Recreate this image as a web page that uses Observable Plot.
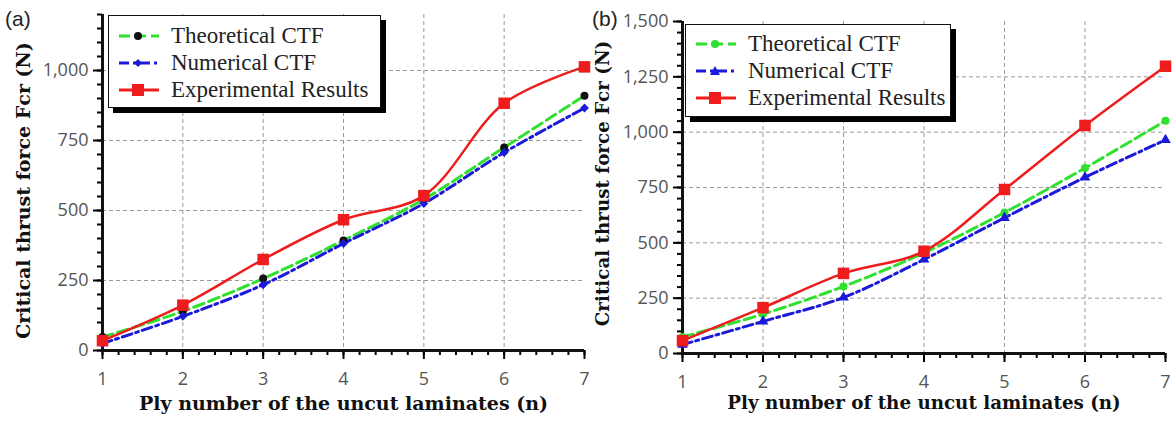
<!DOCTYPE html>
<html>
<head>
<meta charset="utf-8">
<script src="https://cdn.jsdelivr.net/npm/d3@7"></script>
<script src="https://cdn.jsdelivr.net/npm/@observablehq/plot@0.6"></script>
<style>
  html, body { margin: 0; padding: 0; background: #fff; }
  #wrap { display: flex; width: 1174px; height: 421px; }
  .panel { position: relative; width: 587px; height: 421px; }
  .panel svg.plot { position: absolute; left: 0; top: 0; }
  .panel g[aria-label$="tick label"] { fill: #555; font-family: "Open Sans", "Liberation Sans", sans-serif; }
  .tag { position: absolute; font-family: "Liberation Sans", sans-serif; font-size: 21px; color: #222; }
  .legend { position: absolute; background: #fff; border: 1px solid #111; box-shadow: 5px 5px 0 #000; box-sizing: border-box; }
  .legend .row { position: absolute; left: 0; display: flex; align-items: center; height: 26px; }
  .legend .row span { font-family: "Liberation Serif", "Times New Roman", serif; font-size: 23px; color: #222; white-space: nowrap; }
</style>
</head>
<body>
<div id="wrap"></div>
<script>
// ---- data ----
const plies = [1, 2, 3, 4, 5, 6, 7];
const seriesNames = ["Theoretical CTF", "Numerical CTF", "Experimental Results"];
const aTheoretical = [48, 140, 257, 393, 540, 725, 910];
const aNumerical = [25, 122, 235, 382, 525, 707, 866];
const aExperimental = [35, 162, 325, 467, 553, 883, 1013];
const bTheoretical = [75, 178, 303, 455, 637, 838, 1052];
const bNumerical = [40, 145, 253, 425, 613, 796, 965];
const bExperimental = [58, 207, 362, 462, 741, 1030, 1298];
const xTickLabels = [1, 2, 3, 4, 5, 6, 7];
const aYTicks = [0, 250, 500, 750, 1000];
const bYTicks = [0, 250, 500, 750, 1000, 1250, 1500];
const xTitle = "Ply number of the uncut laminates (n)";
const yTitle = "Critical thrust force Fcr (N)";

const GREEN = "#2fe02f", BLUE = "#1a1ad8", RED = "#ee1c1c";

function rows(vals) { return plies.map((p, i) => ({x: p, y: vals[i]})); }

function panel(cfg) {
  const div = document.createElement("div");
  div.className = "panel";
  const [th, nu, ex] = cfg.series;
  const minorX = d3.range(0, 31).map(i => 1 + i * 0.2);
  const minorY = d3.range(0, cfg.ymax + 1, 50);
  const tf = d3.format(",");
  const titleFont = {fontSize: cfg.tfs, fontWeight: "bold", fontFamily: "DejaVu Serif, serif", fill: "#111", lineAnchor: "middle", textAnchor: "middle"};
  const chart = Plot.plot({
    width: 587, height: 421,
    marginLeft: cfg.ml, marginRight: cfg.mr, marginTop: cfg.mt, marginBottom: cfg.mb,
    x: {domain: [1, 7], label: null},
    y: {domain: [0, cfg.ymax], label: null},
    style: {background: "transparent", overflow: "visible"},
    marks: [
      Plot.gridX(xTickLabels.filter(d => d > 1 && d < 7), {stroke: "#9a9a9a", strokeOpacity: 1, strokeDasharray: "4,3"}),
      Plot.gridY(cfg.yticks.filter(d => d > 0 && d < cfg.ymax), {stroke: "#9a9a9a", strokeOpacity: 1, strokeDasharray: "4,3"}),
      Plot.axisX(minorX, {tickSize: 5, text: null, strokeWidth: 2, label: null}),
      Plot.axisX(xTickLabels, {tickSize: 9, strokeWidth: 2, tickPadding: 13, fontSize: 18, label: null}),
      Plot.axisY(minorY, {tickSize: 5, text: null, strokeWidth: 2, label: null}),
      Plot.axisY(cfg.yticks, {tickSize: 9, strokeWidth: 2, tickPadding: 5, fontSize: 18, tickFormat: tf, label: null}),
      Plot.ruleY([0], {stroke: "#111", strokeWidth: 3}),
      Plot.ruleX([1], {stroke: "#111", strokeWidth: 3}),
      Plot.line(rows(th), {x: "x", y: "y", stroke: GREEN, strokeWidth: 3, strokeDasharray: "11,5", curve: "catmull-rom"}),
      Plot.line(rows(nu), {x: "x", y: "y", stroke: BLUE, strokeWidth: 3, strokeDasharray: "10,4,3,4", curve: "catmull-rom"}),
      Plot.line(rows(ex), {x: "x", y: "y", stroke: RED, strokeWidth: 2.5, curve: "catmull-rom"}),
      Plot.dot(rows(th), {x: "x", y: "y", r: 4, fill: cfg.thDot, stroke: null}),
      Plot.dot(rows(nu), {x: "x", y: "y", r: 4, fill: BLUE, symbol: cfg.nuSymbol, stroke: null}),
      Plot.dot(rows(ex), {x: "x", y: "y", r: 6.5, fill: RED, symbol: "square", stroke: null}),
      Plot.text([yTitle], {text: d => d, frameAnchor: "left", rotate: -90, dx: cfg.ytdx, dy: cfg.ytdy, ...titleFont}),
      Plot.text([xTitle], {text: d => d, frameAnchor: "bottom", dy: cfg.xtdy, dx: cfg.xtdx, ...titleFont})
    ]
  });
  div.appendChild(chart);

  const tag = document.createElement("div");
  tag.className = "tag";
  tag.style.left = cfg.tagX + "px"; tag.style.top = cfg.tagY + "px";
  tag.textContent = cfg.tag;
  div.appendChild(tag);

  const lg = document.createElement("div");
  lg.className = "legend";
  Object.assign(lg.style, {left: cfg.lg.x + "px", top: cfg.lg.y + "px", width: cfg.lg.w + "px", height: cfg.lg.h + "px"});
  const styles = [
    {stroke: GREEN, dash: "11,5", marker: `<circle cx="20" cy="13" r="4" fill="${cfg.thDot}"/>`},
    {stroke: BLUE, dash: "10,4,3,4", marker: cfg.nuSymbol === "triangle" ? `<path d="M20,8 L25,17 L15,17 Z" fill="${BLUE}"/>` : `<path d="M20,9 L24,13 L20,17 L16,13 Z" fill="${BLUE}"/>`},
    {stroke: RED, dash: null, marker: `<rect x="14" y="7" width="12" height="12" fill="${RED}"/>`}
  ];
  seriesNames.forEach((name, i) => {
    const r = document.createElement("div");
    r.className = "row";
    r.style.top = (cfg.lg.r0 + i * cfg.lg.dr) + "px";
    r.style.left = cfg.lg.sx + "px";
    const s = styles[i];
    r.innerHTML = `<svg width="42" height="26" style="margin-right:${cfg.lg.gap}px"><line x1="1" y1="13" x2="41" y2="13" stroke="${s.stroke}" stroke-width="3" ${s.dash ? `stroke-dasharray="${s.dash}"` : ""}/>${s.marker}</svg><span>${name}</span>`;
    lg.appendChild(r);
  });
  div.appendChild(lg);
  return div;
}

const wrap = document.getElementById("wrap");
wrap.appendChild(panel({
  series: [aTheoretical, aNumerical, aExperimental],
  ymax: 1200, yticks: aYTicks,
  ml: 102, mr: 3, mt: 14, mb: 71,
  tfs: 19, ytdx: -79, ytdy: 8, xtdy: 53, xtdx: 0,
  thDot: "#111", nuSymbol: "diamond2",
  tag: "(a)", tagX: 5, tagY: 7,
  lg: {x: 108, y: 15, w: 273, h: 93, sx: 9, r0: 7, dr: 27, gap: 11}
}));
wrap.appendChild(panel({
  series: [bTheoretical, bNumerical, bExperimental],
  ymax: 1500, yticks: bYTicks,
  ml: 95, mr: 9, mt: 21, mb: 68,
  tfs: 18.3, ytdx: -79, ytdy: -4, xtdy: 50, xtdx: 0,
  thDot: GREEN, nuSymbol: "triangle",
  tag: "(b)", tagX: 5, tagY: 7,
  lg: {x: 98, y: 24, w: 266, h: 93, sx: 9, r0: 6, dr: 27, gap: 11}
}));
</script>
</body>
</html>
